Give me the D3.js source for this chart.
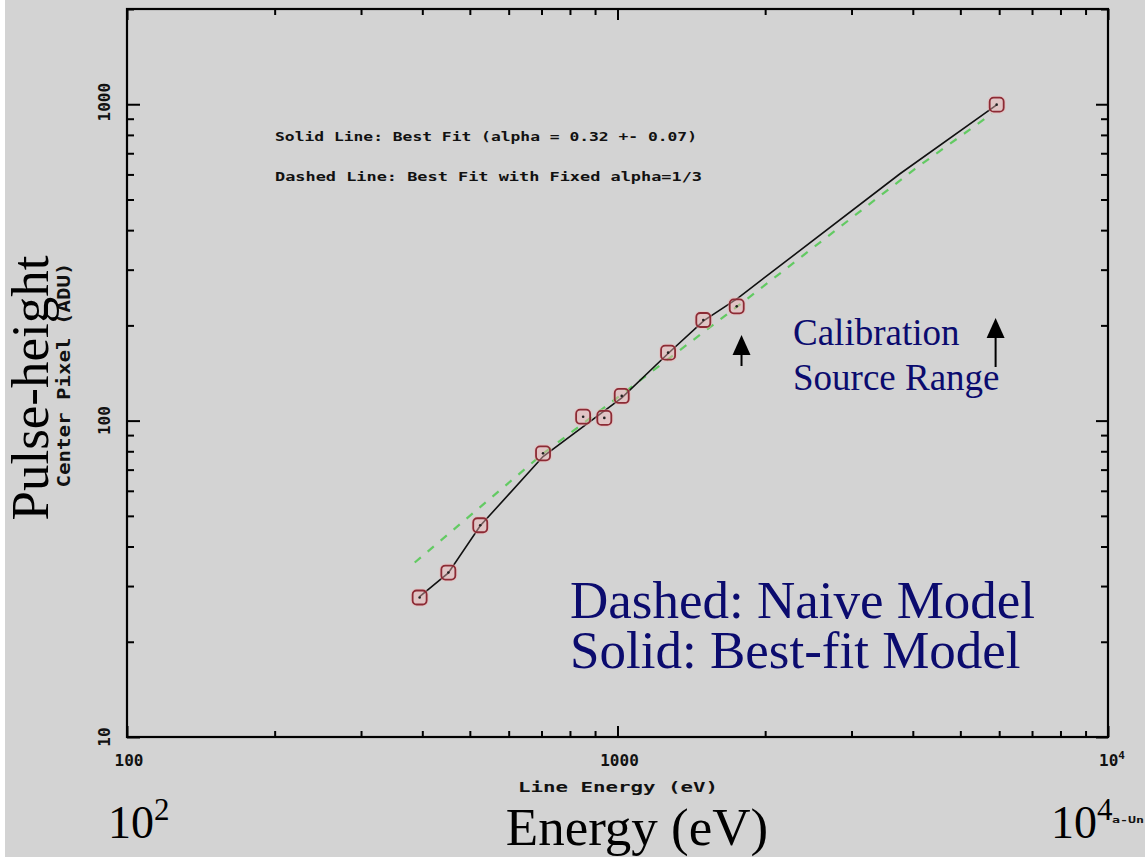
<!DOCTYPE html>
<html>
<head>
<meta charset="utf-8">
<script src="https://cdn.jsdelivr.net/npm/d3@7"></script>
<style>
  html, body { margin: 0; padding: 0; background: #ffffff; }
  svg { display: block; }
</style>
</head>
<body>
<svg id="chart" width="1145" height="867"></svg>
<script>
// ---------------- DATA ----------------
const pointEnergies = [395, 452, 525, 705, 851, 940, 1020, 1268, 1496, 1750, 5930];
const pointHeights  = [27.6, 33.1, 46.7, 78.8, 102.9, 102, 119.7, 164, 208, 229.7, 997];

const solidEnergies = [395, 452, 525, 705, 1020, 1268, 1500, 1760, 3767, 5930];
const solidHeights  = [27.8, 33.0, 46.5, 77, 118, 163, 207, 244, 603, 995];

const dashedEnergies = [386, 524, 706, 1020, 1777, 4042, 5795];
const dashedHeights  = [35.6, 53.2, 78.8, 121, 233, 625, 933];

const xMajorTicks = [100, 1000, 10000];
const xMinorTicks = [200, 300, 400, 500, 600, 700, 800, 900, 2000, 3000, 4000, 5000, 6000, 7000, 8000, 9000];
const yMajorTicks = [10, 100, 1000];
const yMinorTicks = [20, 30, 40, 50, 60, 70, 80, 90, 200, 300, 400, 500, 600, 700, 800, 900, 2000];
const xTickLabels = ["100", "1000", "10"];
const yTickLabels = ["10", "100", "1000"];
const arrowEnergies = [1790, 5900];

// ---------------- SETUP ----------------
const svg = d3.select("#chart");
const W = 1145, H = 867;
const L = 127, R = 1108, T = 9, B = 737;

svg.append("rect").attr("x", 0).attr("y", 0).attr("width", W).attr("height", H).attr("fill", "#ffffff");
svg.append("rect").attr("x", 5).attr("y", 0).attr("width", W - 5).attr("height", 857).attr("fill", "#d3d3d3");

const x = d3.scaleLog().domain([100, 10000]).range([L, R]);
const y = d3.scaleLog().domain([10, 2000]).range([B, T]);

// ---------------- AXES ----------------
function addAxis(gen, tx, ty) {
  const g = svg.append("g").attr("transform", `translate(${tx},${ty})`).call(gen);
  g.selectAll(".domain").remove();
  g.selectAll("line").attr("stroke", "#000").attr("stroke-width", 2);
  g.selectAll("text").remove();
  return g;
}
addAxis(d3.axisBottom(x).tickValues(xMajorTicks).tickSize(-11), 0, B);
addAxis(d3.axisBottom(x).tickValues(xMinorTicks).tickSize(-6), 0, B);
addAxis(d3.axisTop(x).tickValues(xMajorTicks).tickSize(-11), 0, T);
addAxis(d3.axisTop(x).tickValues(xMinorTicks).tickSize(-6), 0, T);
addAxis(d3.axisLeft(y).tickValues(yMajorTicks).tickSize(-13), L, 0);
addAxis(d3.axisLeft(y).tickValues(yMinorTicks).tickSize(-7), L, 0);
addAxis(d3.axisRight(y).tickValues(yMajorTicks).tickSize(-12), R, 0);
addAxis(d3.axisRight(y).tickValues(yMinorTicks).tickSize(-7), R, 0);

svg.append("rect").attr("x", L).attr("y", T).attr("width", R - L).attr("height", B - T)
  .attr("fill", "none").attr("stroke", "#000").attr("stroke-width", 2.2);

// small tick labels (pixel-like bold font)
const smallFont = "'DejaVu Sans Mono', monospace";
xTickLabels.forEach((lab, i) => {
  const t = svg.append("text")
    .attr("x", x(xMajorTicks[i]) + (i === 2 ? 4 : 2))
    .attr("y", 766)
    .attr("text-anchor", "middle")
    .attr("font-family", smallFont).attr("font-weight", "bold").attr("font-size", 16)
    .attr("fill", "#111").text(lab);
  if (i === 2) t.append("tspan").attr("dy", -7).attr("font-size", 11).text("4");
});
yTickLabels.forEach((lab, i) => {
  svg.append("text")
    .attr("transform", `translate(110,${y(yMajorTicks[i]) - (i === 2 ? 2 : 0)}) rotate(-90)`)
    .attr("text-anchor", "middle")
    .attr("font-family", smallFont).attr("font-weight", "bold").attr("font-size", 16)
    .attr("fill", "#111").text(lab);
});

// small axis titles
svg.append("text").attr("x", 618).attr("y", 792).attr("text-anchor", "middle")
  .attr("font-family", smallFont).attr("font-weight", "bold").attr("font-size", 14)
  .attr("textLength", 200).attr("lengthAdjust", "spacingAndGlyphs")
  .attr("fill", "#111").text("Line Energy (eV)");
svg.append("text").attr("transform", "translate(70,375) rotate(-90)").attr("text-anchor", "middle")
  .attr("font-family", smallFont).attr("font-weight", "bold").attr("font-size", 18)
  .attr("textLength", 225).attr("lengthAdjust", "spacingAndGlyphs")
  .attr("fill", "#111").text("Center Pixel (ADU)");

// legend text inside plot
svg.append("text").attr("x", 275).attr("y", 141)
  .attr("font-family", smallFont).attr("font-weight", "bold").attr("font-size", 13)
  .attr("textLength", 422).attr("lengthAdjust", "spacingAndGlyphs")
  .attr("fill", "#111").text("Solid Line: Best Fit (alpha = 0.32 +- 0.07)");
svg.append("text").attr("x", 275).attr("y", 181)
  .attr("font-family", smallFont).attr("font-weight", "bold").attr("font-size", 13)
  .attr("textLength", 427).attr("lengthAdjust", "spacingAndGlyphs")
  .attr("fill", "#111").text("Dashed Line: Best Fit with Fixed alpha=1/3");

// ---------------- LINES ----------------
const line = d3.line().x(d => x(d[0])).y(d => y(d[1])).curve(d3.curveLinear);
svg.append("path").datum(d3.zip(dashedEnergies, dashedHeights)).attr("d", line)
  .attr("fill", "none").attr("stroke", "#46c846").attr("stroke-width", 2.2)
  .attr("stroke-dasharray", "8,9").attr("opacity", 0.8);
svg.append("path").datum(d3.zip(solidEnergies, solidHeights)).attr("d", line)
  .attr("fill", "none").attr("stroke", "#111").attr("stroke-width", 1.6);

// ---------------- POINTS ----------------
const pts = d3.zip(pointEnergies, pointHeights);
svg.append("g").selectAll("rect.halo").data(pts).join("rect")
  .attr("x", d => x(d[0]) - 9).attr("y", d => y(d[1]) - 9)
  .attr("width", 18).attr("height", 18).attr("rx", 6)
  .attr("fill", "#f0b4b4").attr("opacity", 0.45);
svg.append("g").selectAll("rect.pt").data(pts).join("rect")
  .attr("x", d => x(d[0]) - 7).attr("y", d => y(d[1]) - 7)
  .attr("width", 14).attr("height", 14).attr("rx", 4)
  .attr("fill", "none").attr("stroke", "#8c2a34").attr("stroke-width", 1.8);
svg.append("g").selectAll("circle").data(pts).join("circle")
  .attr("cx", d => x(d[0])).attr("cy", d => y(d[1])).attr("r", 1.3).attr("fill", "#222");

// ---------------- ANNOTATIONS ----------------
const navy = "#0b0b6e";
const serif = "'Liberation Serif', 'Times New Roman', serif";
const arrowTips = [335, 318];
const arrowTails = [366, 367];
arrowEnergies.forEach((e, i) => {
  const ax = x(e);
  svg.append("line").attr("x1", ax).attr("x2", ax).attr("y1", arrowTips[i] + 12).attr("y2", arrowTails[i])
    .attr("stroke", "#000").attr("stroke-width", 2);
  svg.append("path")
    .attr("d", `M${ax},${arrowTips[i]} L${ax - 9},${arrowTips[i] + 20} L${ax + 9},${arrowTips[i] + 20} Z`)
    .attr("fill", "#000");
});
svg.append("text").attr("x", 793).attr("y", 345).attr("font-family", serif).attr("font-size", 37)
  .attr("fill", navy).text("Calibration");
svg.append("text").attr("x", 793).attr("y", 390).attr("font-family", serif).attr("font-size", 37)
  .attr("fill", navy).text("Source Range");

svg.append("text").attr("x", 570).attr("y", 618).attr("font-family", serif).attr("font-size", 53)
  .attr("fill", navy).text("Dashed: Naive Model");
svg.append("text").attr("x", 570).attr("y", 668).attr("font-family", serif).attr("font-size", 53)
  .attr("fill", navy).text("Solid: Best-fit Model");

// big overlaid axis labels
svg.append("text").attr("transform", "translate(48,388) rotate(-90)").attr("text-anchor", "middle")
  .attr("font-family", serif).attr("font-size", 53).attr("fill", "#000").text("Pulse-height");
svg.append("text").attr("x", 637).attr("y", 845).attr("text-anchor", "middle")
  .attr("font-family", serif).attr("font-size", 53).attr("fill", "#000").text("Energy (eV)");

const t2 = svg.append("text").attr("x", 108).attr("y", 838).attr("font-family", serif)
  .attr("font-size", 46).attr("fill", "#000").text("10");
t2.append("tspan").attr("dy", -18).attr("font-size", 31).text("2");
const t4 = svg.append("text").attr("x", 1051).attr("y", 838).attr("font-family", serif)
  .attr("font-size", 46).attr("fill", "#000").text("10");
t4.append("tspan").attr("dy", -18).attr("font-size", 31).text("4");
svg.append("text").attr("x", 1112).attr("y", 823).attr("font-family", smallFont).attr("font-weight", "bold")
  .attr("font-size", 9).attr("textLength", 32).attr("lengthAdjust", "spacingAndGlyphs")
  .attr("fill", "#111").text("a-Un");
</script>
</body>
</html>
